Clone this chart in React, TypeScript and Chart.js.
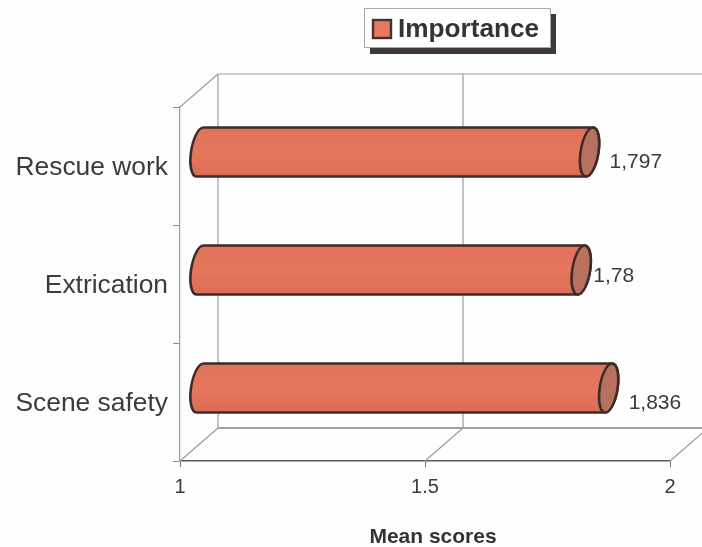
import React, { useEffect, useRef } from "react";
import { Chart, registerables } from "chart.js";

Chart.register(...registerables);

const categories = ["Rescue work", "Extrication", "Scene safety"];
const seriesName = "Importance";
const importance = [1.797, 1.78, 1.836];
const valueLabels = ["1,797", "1,78", "1,836"];
const axisTitle = "Mean scores";
const xMin = 1;
const xMax = 2;
const xStep = 0.5;

const FONT = "'Liberation Sans', Arial, sans-serif";
const TEXT = "#3b3b3b";
const OUTLINE = "#3d2b28";
const WALL = { dx: 38, dy: -33 };
const BAR = { dx: 19, dy: -14, rx: 9, skew: 0.14 };
const LABEL_NUDGE = [
  { x: 20, y: 10 },
  { x: 12, y: 6 },
  { x: 20, y: 15 },
];

function line(ctx: CanvasRenderingContext2D, x0: number, y0: number, x1: number, y1: number, color: string, w = 1.2) {
  ctx.beginPath();
  ctx.moveTo(x0, y0);
  ctx.lineTo(x1, y1);
  ctx.strokeStyle = color;
  ctx.lineWidth = w;
  ctx.stroke();
}

const wallsPlugin = {
  id: "walls",
  beforeDatasetsDraw(chart: any) {
    const { ctx, chartArea: a, scales } = chart;
    const { dx, dy } = WALL;
    const grey = "#9b9b9b";
    ctx.save();
    line(ctx, a.left + dx, a.top + dy, a.right + dx, a.top + dy, grey);
    line(ctx, a.left + dx, a.bottom + dy, a.right + dx, a.bottom + dy, "#808080", 1.5);
    line(ctx, a.left, a.top, a.left + dx, a.top + dy, grey);
    line(ctx, a.left, a.bottom, a.left + dx, a.bottom + dy, grey);
    line(ctx, a.right, a.bottom, a.right + dx, a.bottom + dy, grey);
    const mid = scales.x.getPixelForValue(xMin + xStep);
    line(ctx, mid + dx, a.top + dy, mid + dx, a.bottom + dy, grey);
    line(ctx, mid, a.bottom, mid + dx, a.bottom + dy, grey);
    line(ctx, a.left + dx, a.top + dy, a.left + dx, a.bottom + dy, grey);
    ctx.restore();
  },
};

const cylinderPlugin = {
  id: "cylinders",
  beforeDatasetDraw(chart: any, args: any) {
    const { ctx, chartArea } = chart;
    const meta = args.meta;
    meta.data.forEach((el: any, i: number) => {
      const x0 = Math.max(el.base, chartArea.left) + BAR.dx + 1;
      const x1 = el.x + BAR.dx;
      const cy = el.y + BAR.dy;
      const r = el.height / 2;
      ctx.save();
      ctx.translate(0, cy);
      ctx.transform(1, 0, -BAR.skew, 1, 0, 0);
      const g = ctx.createLinearGradient(0, -r, 0, r);
      g.addColorStop(0, "#e0725a");
      g.addColorStop(0.5, "#e6775d");
      g.addColorStop(1, "#dc6d55");
      ctx.beginPath();
      ctx.moveTo(x1, -r);
      ctx.lineTo(x0, -r);
      ctx.ellipse(x0, 0, BAR.rx, r, 0, -Math.PI / 2, Math.PI / 2, true);
      ctx.lineTo(x1, r);
      ctx.ellipse(x1, 0, BAR.rx, r, 0, Math.PI / 2, -Math.PI / 2, true);
      ctx.closePath();
      ctx.fillStyle = g;
      ctx.fill();
      ctx.strokeStyle = OUTLINE;
      ctx.lineWidth = 2.6;
      ctx.stroke();
      ctx.beginPath();
      ctx.ellipse(x1, 0, BAR.rx, r, 0, 0, Math.PI * 2);
      ctx.fillStyle = "#b8705f";
      ctx.fill();
      ctx.stroke();
      ctx.restore();

      ctx.save();
      ctx.fillStyle = TEXT;
      ctx.font = `21px ${FONT}`;
      ctx.textAlign = "left";
      ctx.textBaseline = "middle";
      ctx.fillText(valueLabels[i], x1 + LABEL_NUDGE[i].x, cy + LABEL_NUDGE[i].y);
      ctx.restore();
    });
    return false;
  },
};

const decorPlugin = {
  id: "decor",
  afterDraw(chart: any) {
    const { ctx, data } = chart;
    ctx.save();
    // legend frame with hard drop shadow
    ctx.fillStyle = "#3f3a38";
    ctx.fillRect(370, 14, 186, 40);
    ctx.fillStyle = "#ffffff";
    ctx.fillRect(364, 8, 187, 40);
    ctx.strokeStyle = "#a8a8a8";
    ctx.lineWidth = 1;
    ctx.strokeRect(364.5, 8.5, 186, 39);
    ctx.fillStyle = data.datasets[0].backgroundColor;
    ctx.fillRect(373, 20, 18, 18);
    ctx.strokeStyle = "#403430";
    ctx.lineWidth = 2.4;
    ctx.strokeRect(373, 20, 18, 18);
    ctx.fillStyle = "#333333";
    ctx.font = `bold 26.2px ${FONT}`;
    ctx.textAlign = "left";
    ctx.textBaseline = "middle";
    ctx.fillText(data.datasets[0].label, 398, 30);
    // axis title
    ctx.font = `bold 21px ${FONT}`;
    ctx.textAlign = "center";
    ctx.fillText(axisTitle, 433, 537);
    ctx.restore();
  },
};

export default function App() {
  const ref = useRef<HTMLCanvasElement | null>(null);
  useEffect(() => {
    if (!ref.current) return;
    const chart = new Chart(ref.current, {
      type: "bar",
      data: {
        labels: categories,
        datasets: [
          {
            label: seriesName,
            data: importance,
            backgroundColor: "#e8795f",
            borderColor: OUTLINE,
            barThickness: 49,
          },
        ],
      },
      options: {
        indexAxis: "y",
        responsive: false,
        animation: false,
        devicePixelRatio: 1,
        layout: { padding: { top: 107, right: 32, left: 0, bottom: 0 } },
        plugins: { legend: { display: false }, tooltip: { enabled: false } },
        scales: {
          x: {
            type: "linear",
            min: xMin,
            max: xMax,
            afterFit: (s: any) => {
              s.height = 86;
            },
            ticks: {
              stepSize: xStep,
              callback: (v: any) => String(v),
              color: TEXT,
              font: { family: FONT, size: 20 },
              maxRotation: 0,
              padding: 8,
            },
            grid: { drawOnChartArea: false, drawTicks: true, tickLength: 6, color: "#777777" },
            border: { display: true, color: "#5a5a5a", width: 1.6 },
          },
          y: {
            type: "category",
            afterFit: (s: any) => {
              s.width = 180;
            },
            ticks: {
              color: TEXT,
              font: { family: FONT, size: 26.4 },
              padding: 5,
              labelOffset: 2,
            },
            grid: { drawOnChartArea: false, drawTicks: true, tickLength: 7, color: "#8a8a8a", offset: true },
            border: { display: true, color: "#9b9b9b", width: 1.2 },
          },
        },
      },
      plugins: [wallsPlugin, cylinderPlugin, decorPlugin],
    } as any);
    return () => chart.destroy();
  }, []);
  return (
    <div style={{ position: "fixed", left: 0, top: 0, width: 702, height: 547, background: "#fefefe" }}>
      <canvas ref={ref} width={702} height={547} style={{ display: "block" }} />
    </div>
  );
}
